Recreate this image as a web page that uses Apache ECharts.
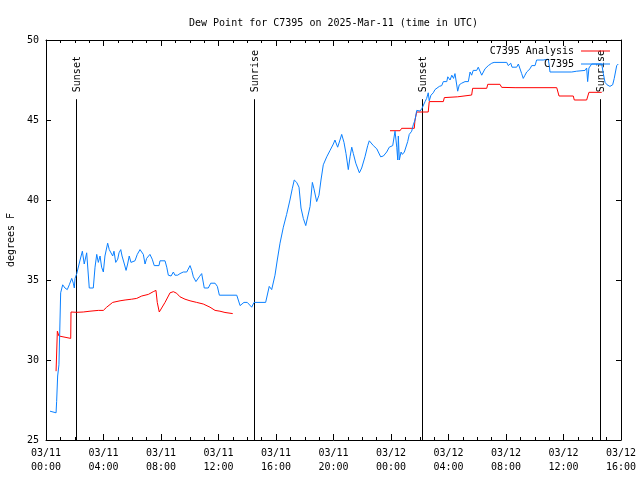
<!DOCTYPE html>
<html>
<head>
<meta charset="utf-8">
<script src="https://cdn.jsdelivr.net/npm/echarts@6/dist/echarts.min.js"></script>
<style>html,body{margin:0;padding:0;background:#fff}#c{width:640px;height:480px}</style>
</head>
<body>
<div id="c"></div>
<script>
// Hours since 2025-03-11 00:00 UTC
var xTickLabels = ['03/11\n00:00','03/11\n04:00','03/11\n08:00','03/11\n12:00','03/11\n16:00','03/11\n20:00','03/12\n00:00','03/12\n04:00','03/12\n08:00','03/12\n12:00','03/12\n16:00'];
var yTicks = [25, 30, 35, 40, 45, 50];

var eventHours = [2.09, 14.47, 26.16, 38.54];
var eventNames = ['Sunset', 'Sunrise', 'Sunset', 'Sunrise'];

var obsHours = [0.28,0.70,0.74,0.81,0.86,0.90,1.02,1.16,1.32,1.48,1.62,1.79,1.90,1.97,2.02,2.14,2.37,2.53,2.66,2.83,2.90,3.01,3.29,3.41,3.53,3.64,3.76,3.87,3.99,4.10,4.29,4.40,4.52,4.64,4.73,4.85,4.99,5.08,5.20,5.29,5.45,5.57,5.68,5.79,5.91,6.03,6.19,6.35,6.54,6.66,6.77,6.89,7.00,7.23,7.39,7.53,7.86,7.93,8.28,8.40,8.51,8.70,8.86,8.97,9.16,9.32,9.55,9.79,10.02,10.14,10.25,10.43,10.66,10.83,10.92,11.01,11.29,11.46,11.76,11.92,12.06,13.27,13.50,13.77,14.00,14.31,14.47,15.28,15.53,15.70,15.93,16.09,16.28,16.51,16.74,16.97,17.13,17.27,17.44,17.60,17.74,17.90,18.07,18.20,18.37,18.53,18.64,18.83,18.99,19.13,19.29,19.53,19.76,19.99,20.10,20.29,20.45,20.57,20.73,20.87,21.03,21.15,21.27,21.38,21.55,21.80,21.96,22.19,22.38,22.49,22.77,23.01,23.28,23.47,23.70,23.88,24.12,24.21,24.28,24.40,24.47,24.51,24.58,24.70,24.79,24.93,25.02,25.16,25.27,25.44,25.55,25.67,25.79,25.90,26.02,26.14,26.25,26.37,26.48,26.59,26.66,26.78,26.94,27.06,27.18,27.36,27.53,27.64,27.76,27.88,27.95,28.11,28.23,28.35,28.45,28.57,28.64,28.75,28.92,29.15,29.38,29.50,29.61,29.72,29.84,29.96,30.07,30.19,30.31,30.42,30.54,30.66,30.77,30.89,31.01,31.17,32.05,32.16,32.33,32.42,32.74,32.86,32.97,33.09,33.20,33.32,33.44,33.55,33.67,33.79,34.02,34.13,34.59,34.71,34.94,35.01,35.06,36.57,36.68,36.92,37.50,37.61,37.68,37.77,37.96,38.66,38.77,38.89,39.03,39.23,39.42,39.53,39.70,39.81];
var obsValues = [26.8,26.7,27.4,29.0,28.9,29.7,34.2,34.7,34.5,34.4,34.7,35.1,34.8,34.5,35.1,35.4,36.25,36.8,36.0,36.7,36.8,34.5,34.5,35.8,36.6,36.1,36.5,35.8,35.5,36.5,37.3,36.9,37.0,36.5,36.8,36.1,36.3,36.7,36.9,36.5,36.0,35.6,36.0,36.5,36.1,36.1,36.2,36.6,36.9,37.0,36.6,36.0,36.35,36.6,36.3,35.9,35.9,36.2,36.2,35.8,35.3,35.25,35.5,35.3,35.3,35.4,35.5,35.5,35.9,35.6,35.2,34.9,35.2,35.4,35.4,34.5,34.5,34.8,34.8,34.6,34.05,34.05,33.4,33.6,33.6,33.3,33.6,33.6,34.6,34.4,35.3,36.25,37.3,38.3,39.1,40.0,40.7,41.25,41.1,40.8,39.5,38.85,38.4,38.5,39.6,41.1,40.7,39.9,40.3,41.25,42.2,42.7,43.1,43.5,43.75,43.3,43.75,44.1,43.6,42.9,41.9,42.7,43.3,42.9,42.3,41.7,42.0,42.7,43.4,43.7,43.4,43.2,42.7,42.75,43.0,43.3,43.4,43.4,44.3,43.3,42.5,44.0,42.5,43.0,42.85,43.0,43.1,43.65,44.1,44.3,44.7,45.0,45.6,45.7,45.56,45.7,45.8,46.15,46.35,46.7,46.2,46.55,46.7,46.9,46.8,47.1,47.15,47.4,47.35,47.4,47.7,47.5,47.8,47.6,47.9,47.8,46.8,47.2,47.3,47.4,47.4,48.0,47.8,48.1,48.2,48.1,48.3,48.4,47.8,47.9,48.2,48.3,48.4,48.4,48.55,48.6,48.6,48.4,48.55,48.3,48.3,48.5,48.4,47.9,47.6,47.8,48.0,48.1,48.2,48.4,48.4,48.75,48.75,48.8,48.8,48.4,48.0,48.0,48.1,48.05,48.1,48.25,47.4,48.25,48.5,48.5,47.9,47.35,47.2,47.1,47.2,47.6,48.4,48.5];

var anaHours1 = [0.70,0.79,0.90,0.97,1.72,1.74,2.14,2.59,3.06,3.64,3.99,4.22,4.64,5.15,5.50,5.96,6.31,6.66,7.12,7.46,7.65,7.74,7.88,8.28,8.63,8.86,9.09,9.32,9.67,10.02,10.48,10.94,11.41,11.76,12.10,12.45,12.99];
var anaValues1 = [29.3,31.8,31.5,31.4,31.35,33.0,32.98,33.0,33.05,33.1,33.1,33.3,33.6,33.7,33.75,33.8,33.85,34.0,34.1,34.27,34.35,33.6,33.0,33.6,34.2,34.27,34.17,33.95,33.8,33.7,33.6,33.5,33.3,33.1,33.05,32.97,32.9];
var anaHours2 = [23.93,24.63,24.74,25.62,25.67,25.79,26.59,26.66,27.64,27.71,28.64,28.68,29.61,29.68,30.66,30.73,31.58,31.70,32.63,33.67,33.79,35.53,35.69,36.68,36.75,37.61,37.77,38.66];
var anaValues2 = [44.33,44.33,44.48,44.48,45.0,45.5,45.5,46.15,46.15,46.4,46.45,46.56,46.56,46.98,46.98,47.23,47.23,47.04,47.02,47.02,47.04,47.02,46.5,46.5,46.25,46.25,46.73,46.73];

function pairs(xs, ys) { return xs.map(function (x, i) { return [x, ys[i]]; }); }

var FONT = 'DejaVu Sans Mono';
var RED = '#ff0000';
var BLUE = '#0a80ff';
var EVENT_TOP = 46.3;

var chart = echarts.init(document.getElementById('c'), null, { renderer: 'canvas' });

var axisCommon = {
  axisLine: { show: true, onZero: false, lineStyle: { color: '#000', width: 1 } },
  splitLine: { show: false }
};

chart.setOption({
  animation: false,
  backgroundColor: '#fff',
  title: {
    text: 'Dew Point for C7395 on 2025-Mar-11 (time in UTC)',
    left: 184, top: 13,
    textStyle: { fontFamily: FONT, fontSize: 10, fontWeight: 'normal', color: '#000' }
  },
  legend: [
    { data: ['C7395 Analysis'], right: 30, top: 46, padding: 0, align: 'right', icon: 'rect', itemWidth: 29, itemHeight: 1,
      textStyle: { fontFamily: FONT, fontSize: 10, color: '#000', padding: [0, 2, 0, 0] }, selectedMode: false },
    { data: ['C7395'], right: 30, top: 59, padding: 0, align: 'right', icon: 'rect', itemWidth: 29, itemHeight: 1,
      textStyle: { fontFamily: FONT, fontSize: 10, color: '#000', padding: [0, 2, 0, 0] }, selectedMode: false }
  ],
  grid: { left: 46, right: 19, top: 40, bottom: 40, containLabel: false, outerBoundsMode: 'none' },
  xAxis: [
    Object.assign({
      type: 'value', position: 'bottom', min: 0, max: 40, interval: 4,
      axisTick: { show: true, inside: true, length: 6, lineStyle: { color: '#000' } },
      minorTick: { show: true, splitNumber: 4, length: 3, lineStyle: { color: '#000' } },
      axisLabel: {
        fontFamily: FONT, fontSize: 10, color: '#000', margin: 6, lineHeight: 14,
        formatter: function (v) { return xTickLabels[Math.round(v / 4)]; }
      }
    }, axisCommon),
    Object.assign({
      type: 'value', position: 'top', min: 0, max: 40, interval: 4,
      axisTick: { show: true, inside: true, length: 6, lineStyle: { color: '#000' } },
      minorTick: { show: true, splitNumber: 4, length: 3, lineStyle: { color: '#000' } },
      axisLabel: { show: false }
    }, axisCommon)
  ],
  yAxis: [
    Object.assign({
      type: 'value', position: 'left', min: yTicks[0], max: yTicks[yTicks.length - 1], interval: 5,
      name: 'degrees F', nameLocation: 'middle', nameGap: 29,
      nameTextStyle: { fontFamily: FONT, fontSize: 10, color: '#000' },
      axisTick: { show: true, inside: true, length: 5, lineStyle: { color: '#000' } },
      axisLabel: { fontFamily: FONT, fontSize: 10, color: '#000', margin: 7 }
    }, axisCommon),
    Object.assign({
      type: 'value', position: 'right', min: yTicks[0], max: yTicks[yTicks.length - 1], interval: 5,
      axisTick: { show: true, inside: true, length: 5, lineStyle: { color: '#000' } },
      axisLabel: { show: false }
    }, axisCommon)
  ],
  series: [
    {
      type: 'custom', name: 'events', xAxisIndex: 0, yAxisIndex: 0, silent: true, z: 1,
      data: eventHours.map(function (h) { return [h, yTicks[0]]; }),
      renderItem: function (params, api) {
        var h = api.value(0);
        var p0 = api.coord([h, yTicks[0]]);
        var p1 = api.coord([h, EVENT_TOP]);
        var x = Math.round(p0[0]) + 0.5;
        return {
          type: 'group',
          children: [
            { type: 'line', shape: { x1: x, y1: p0[1], x2: x, y2: p1[1] }, style: { stroke: '#000', lineWidth: 1 } },
            { type: 'text', x: x + 1, y: p1[1] - 7, rotation: Math.PI / 2,
              style: { text: eventNames[params.dataIndex], fill: '#000', fontFamily: FONT, fontSize: 10, align: 'left', verticalAlign: 'middle' } }
          ]
        };
      }
    },
    {
      type: 'line', name: 'C7395 Analysis', data: pairs(anaHours1, anaValues1),
      showSymbol: false, symbol: 'none', color: RED, lineStyle: { color: RED, width: 1 }, z: 2
    },
    {
      type: 'line', name: 'C7395 Analysis', data: pairs(anaHours2, anaValues2),
      showSymbol: false, symbol: 'none', color: RED, lineStyle: { color: RED, width: 1 }, z: 2
    },
    {
      type: 'line', name: 'C7395', data: pairs(obsHours, obsValues),
      showSymbol: false, symbol: 'none', color: BLUE, lineStyle: { color: BLUE, width: 1 }, z: 3
    }
  ]
});
</script>
</body>
</html>
